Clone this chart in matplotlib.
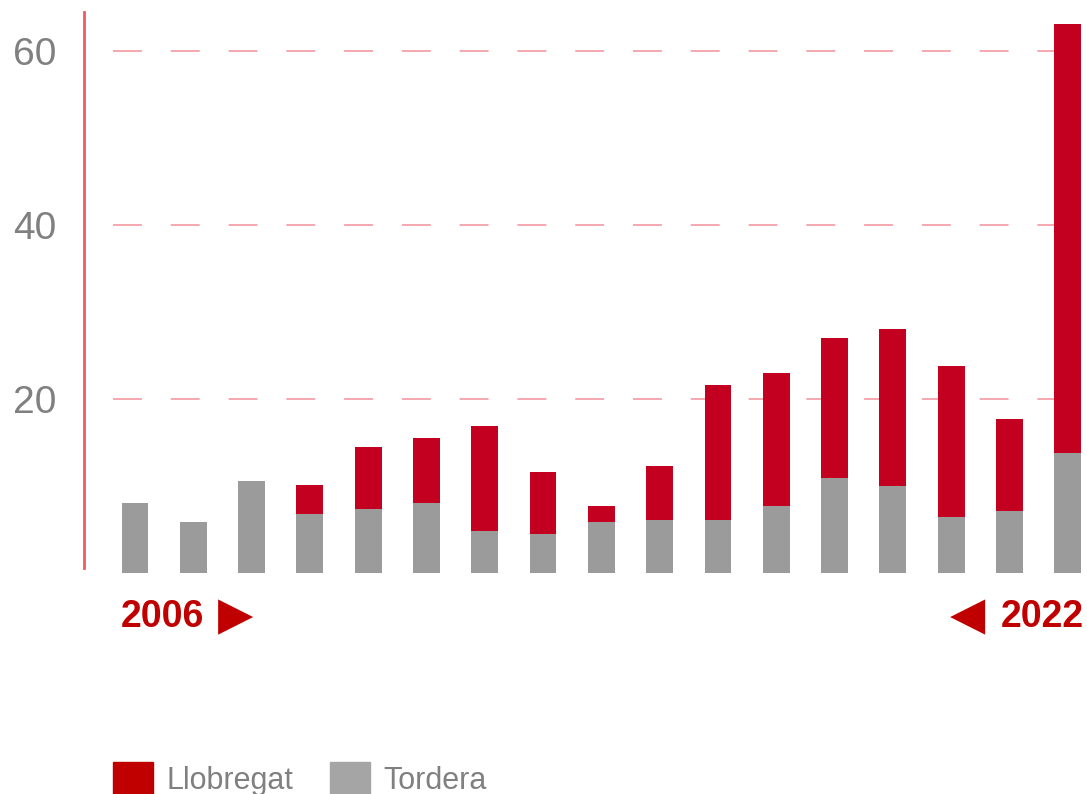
import numpy as np
import matplotlib.pyplot as plt
from matplotlib.patches import Patch

years = list(range(2006, 2023))
tordera = [8.0, 5.8, 10.6, 6.7, 7.3, 8.0, 4.8, 4.5, 5.8, 6.1, 6.1, 7.7, 10.9, 10.0, 6.4, 7.1, 13.8]
llobregat = [0.0, 0.0, 0.0, 3.4, 7.2, 7.5, 12.1, 7.1, 1.9, 6.2, 15.5, 15.3, 16.1, 18.0, 17.4, 10.6, 49.3]
yticks = [20, 40, 60]

RED = '#C40020'
GREY = '#9B9B9B'

plt.rcParams['font.family'] = ['Liberation Sans', 'DejaVu Sans']

fig = plt.figure(figsize=(10.87, 7.94), dpi=100)
ax = fig.add_axes([84 / 1087, 1 - 572.7 / 794, 1 - 84 / 1087, (572.7 - 12) / 794])

x = np.arange(len(years))
ax.bar(x, tordera, width=0.46, color=GREY, zorder=3)
ax.bar(x, llobregat, width=0.46, bottom=tordera, color=RED, zorder=3)

ax.set_xlim(-0.875, 16.33)
ax.set_ylim(0, 64.5)

# dashed guide lines
ax.hlines(yticks, -0.38, 16.33, colors='#F4A0A8', linewidth=1.3,
          linestyles=(0, (16, 16)), zorder=1)

for s in ['top', 'right', 'bottom']:
    ax.spines[s].set_visible(False)
ax.spines['left'].set_color('#EE5A66')
ax.spines['left'].set_linewidth(2)
ax.spines['left'].set_bounds(0.5, 64.5)

ax.set_xticks([])
ax.set_yticks(yticks)
ax.tick_params(axis='y', length=0, pad=20, labelsize=28, labelcolor='#808080')

# year markers under the bars
fig.text(121 / 1087, 1 - 617 / 794, '2006', color='#C00000', fontsize=27,
         fontweight='bold', ha='left', va='center')
fig.text(218 / 1087, 1 - 617 / 794, '▶', color='#C00000', fontsize=33,
         family='DejaVu Sans', ha='left', va='center')
fig.text(1084 / 1087, 1 - 617 / 794, '2022', color='#C00000', fontsize=27,
         fontweight='bold', ha='right', va='center')
fig.text(985 / 1087, 1 - 617 / 794, '◀', color='#C00000', fontsize=33,
         family='DejaVu Sans', ha='right', va='center')

handles = [Patch(color='#C00000'), Patch(color='#A5A5A5')]
leg = fig.legend(handles, ['Llobregat', 'Tordera'], loc='center left',
                 bbox_to_anchor=(113 / 1087, 1 - 779 / 794), ncol=2, frameon=False,
                 fontsize=22, handlelength=1.3, handleheight=1.3,
                 handletextpad=0.45, columnspacing=1.2, borderpad=0,
                 borderaxespad=0)
for t in leg.get_texts():
    t.set_color('#808080')

fig.savefig('out.png', dpi=100)
